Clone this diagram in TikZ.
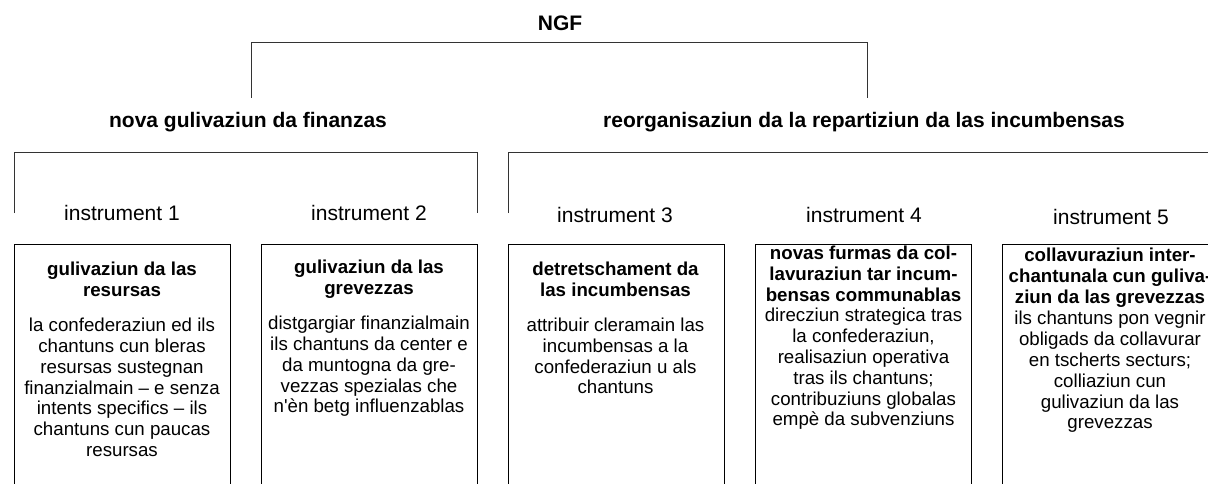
\documentclass[tikz,border=0pt]{standalone}
\usepackage{fontspec}
\setmainfont{Liberation Sans}
\begin{document}
\begin{tikzpicture}[x=1pt,y=-1pt,
  conn/.style={draw=black!80, line width=0.9pt},
  lvl/.style={font=\fontsize{21}{24}\selectfont\bfseries, inner sep=0pt},
  instr/.style={font=\fontsize{21}{24}\selectfont, inner sep=0pt},
  boxs/.style={draw=black, line width=1.2pt, anchor=north west, minimum width=216pt, minimum height=300pt, inner sep=0pt},
  btitle/.style={font=\fontsize{18.7}{20.8}\selectfont\bfseries, align=center, inner sep=0pt},
  bbody/.style={font=\fontsize{18.7}{20.8}\selectfont, align=center, inner sep=0pt}]
\useasboundingbox (0,0) rectangle (1208,484);

% top level
\node[lvl] (ngf) at (560,23) {NGF};
\node[lvl] (t1) at (248,122) {nova gulivaziun da finanzas};
\node[lvl] (t2) at (864,122) {reorganisaziun da la repartiziun da las incumbensas};

\coordinate (a1) at (251,98);
\coordinate (a2) at (867,98);
\coordinate (am) at (560,42.5);
\draw[conn] (a1) |- (am) -| (a2);

% second level brackets
\coordinate (b1) at (14,213);
\coordinate (b2) at (477,213);
\coordinate (bm) at (248,152.5);
\draw[conn] (b1) |- (bm) -| (b2);
\coordinate (c1) at (508,213);
\coordinate (c2) at (1230,152.5);
\draw[conn] (c1) |- (c2);

% instrument labels
\node[instr] (i1) at (122,213) {instrument 1};
\node[instr] (i2) at (369,213) {instrument 2};
\node[instr] (i3) at (615,215) {instrument 3};
\node[instr] (i4) at (864,215) {instrument 4};
\node[instr] (i5) at (1111,217) {instrument 5};

% boxes
\node[boxs] (box1) at (14,244) {};
\node[boxs] (box2) at (261,244) {};
\node[boxs] (box3) at (508,244) {};
\node[boxs] (box4) at (755,244) {};
\node[boxs] (box5) at (1002,244) {};

\node[btitle] (bt1) at (122,279.5) {gulivaziun da las\\resursas};
\node[bbody] (bb1) at (122,387.5) {la confederaziun ed ils\\chantuns cun bleras\\resursas sustegnan\\finanzialmain – e senza\\intents specifics – ils\\chantuns cun paucas\\resursas};

\node[btitle] (bt2) at (369,279.5) {gulivaziun da las\\grevezzas};
\node[bbody] (bb2) at (369,366.5) {distgargiar finanzialmain\\ils chantuns da center e\\da muntogna da gre-\\vezzas spezialas che\\n\textquotesingle èn betg influenzablas};

\node[btitle] (bt3) at (615.5,279.5) {detretschament da\\las incumbensas};
\node[bbody] (bb3) at (615.5,356) {attribuir cleramain las\\incumbensas a la\\confederaziun u als\\chantuns};

\node[btitle] (bt4) at (863.5,274) {novas furmas da col-\\lavuraziun tar incum-\\bensas communablas};
\node[bbody] (bb4) at (863.5,369) {direcziun strategica tras\\la confederaziun,\\realisaziun operativa\\tras ils chantuns;\\contribuziuns globalas\\empè da subvenziuns};

\node[btitle] (bt5) at (1110,278) {collavuraziun inter-\\chantunala cun guliva-\\ziun da las grevezzas};
\node[bbody] (bb5) at (1110,372) {ils chantuns pon vegnir\\obligads da collavurar\\en tscherts secturs;\\colliaziun cun\\gulivaziun da las\\grevezzas};
\end{tikzpicture}
\end{document}
